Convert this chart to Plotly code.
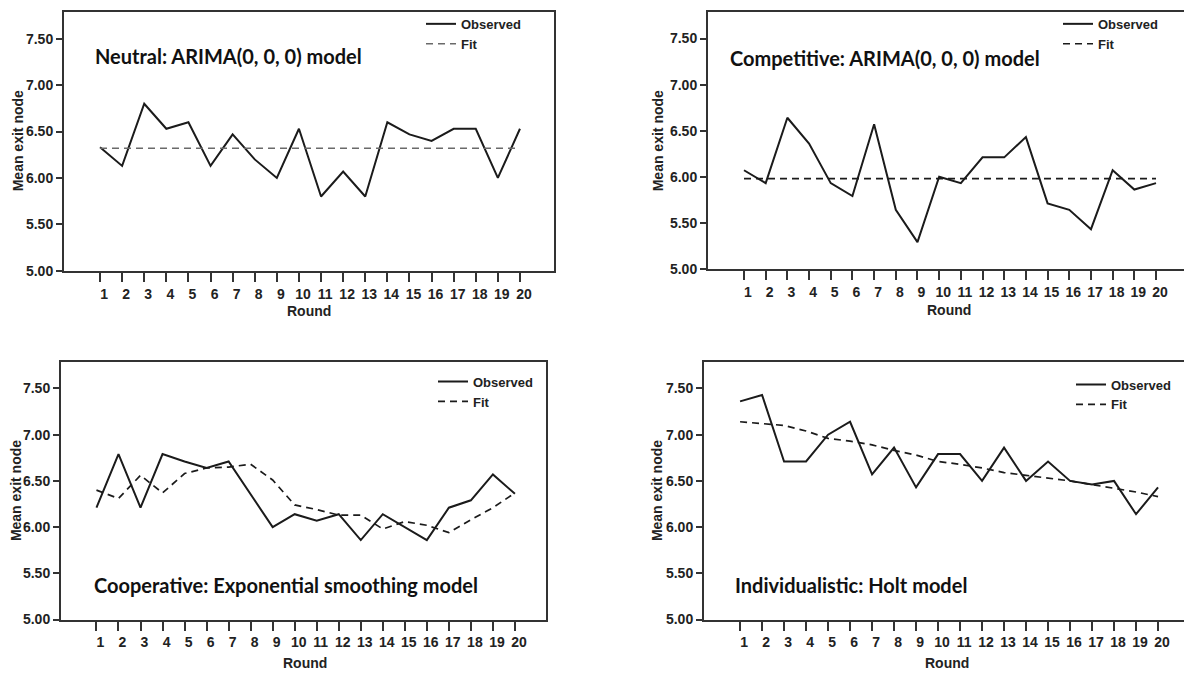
import plotly.graph_objects as go

# Rounds of the experiment (x axis)
rounds = list(range(1, 21))
round_labels = [str(r) for r in rounds]

# Mean exit node per round, observed series and model fit, per condition
neutral_observed = [6.33, 6.13, 6.80, 6.53, 6.60, 6.13, 6.47, 6.20, 6.00, 6.53,
                    5.80, 6.07, 5.80, 6.60, 6.47, 6.40, 6.53, 6.53, 6.00, 6.53]
neutral_fit = [6.32, 6.32, 6.32, 6.32, 6.32, 6.32, 6.32, 6.32, 6.32, 6.32,
               6.32, 6.32, 6.32, 6.32, 6.32, 6.32, 6.32, 6.32, 6.32, 6.32]

competitive_observed = [6.07, 5.93, 6.64, 6.36, 5.93, 5.79, 6.57, 5.64, 5.29, 6.00,
                        5.93, 6.21, 6.21, 6.43, 5.71, 5.64, 5.43, 6.07, 5.86, 5.93]
competitive_fit = [5.98, 5.98, 5.98, 5.98, 5.98, 5.98, 5.98, 5.98, 5.98, 5.98,
                   5.98, 5.98, 5.98, 5.98, 5.98, 5.98, 5.98, 5.98, 5.98, 5.98]

cooperative_observed = [6.21, 6.79, 6.21, 6.79, 6.71, 6.64, 6.71, 6.36, 6.00, 6.14,
                        6.07, 6.14, 5.86, 6.14, 6.00, 5.86, 6.21, 6.29, 6.57, 6.36]
cooperative_fit = [6.40, 6.31, 6.56, 6.37, 6.58, 6.64, 6.65, 6.68, 6.51, 6.24,
                   6.19, 6.13, 6.13, 5.98, 6.06, 6.02, 5.94, 6.08, 6.21, 6.37]

individualistic_observed = [7.36, 7.43, 6.71, 6.71, 7.00, 7.14, 6.57, 6.86, 6.43, 6.79,
                            6.79, 6.50, 6.86, 6.50, 6.71, 6.50, 6.46, 6.50, 6.14, 6.43]
individualistic_fit = [7.14, 7.12, 7.10, 7.04, 6.96, 6.93, 6.89, 6.83, 6.78, 6.71,
                       6.68, 6.64, 6.59, 6.56, 6.53, 6.50, 6.46, 6.42, 6.38, 6.33]

panel_titles = [
    "Neutral: ARIMA(0, 0, 0) model",
    "Competitive: ARIMA(0, 0, 0) model",
    "Cooperative: Exponential smoothing model",
    "Individualistic: Holt model",
]
y_ticks = [5.0, 5.5, 6.0, 6.5, 7.0, 7.5]
y_label = "Mean exit node"
x_label = "Round"

W, H = 1184, 675


def px(x):
    return x / W


def py(y):
    return 1 - y / H


INK = "#1b1b1b"
FRAME = "#333333"
TICK_FONT = dict(family="Liberation Sans, Arial, sans-serif", size=14, color="#222222", weight="bold")
LEGEND_FONT = dict(family="Liberation Sans, Arial, sans-serif", size=13, color="#222222", weight="bold")
TITLE_FONT = dict(family="Lato, Calibri, sans-serif", size=20, color="#111111", weight="bold")

# Layout of each panel in pixels: frame box, x range, legend and label anchors
panels = [
    dict(obs=neutral_observed, fit=neutral_fit, fit_color="#6a6a6a",
         box=(64, 12, 554, 274), xr=(-0.63, 21.54), closed=True,
         legend=(421, 9), title=(93, 57), ylab=(18, 143), xlab=(309, 315)),
    dict(obs=competitive_observed, fit=competitive_fit, fit_color=INK,
         box=(708, 12, 1184, 272), xr=(-0.66, 21.29), closed=False,
         legend=(1058, 9), title=(728, 59), ylab=(658, 143), xlab=(949, 314)),
    dict(obs=cooperative_observed, fit=cooperative_fit, fit_color=INK,
         box=(61, 366, 546, 627), xr=(-0.61, 21.41), closed=True,
         legend=(433, 371), title=(92, 592), ylab=(16, 497), xlab=(305, 671)),
    dict(obs=individualistic_observed, fit=individualistic_fit, fit_color=INK,
         box=(704, 366, 1184, 627), xr=(-0.64, 21.18), closed=False,
         legend=(1071, 374), title=(733, 592), ylab=(657, 497), xlab=(947, 671)),
]

fig = go.Figure()
annotations = []
layout = dict(
    width=W, height=H,
    margin=dict(l=0, r=0, t=0, b=0),
    paper_bgcolor="white", plot_bgcolor="white",
    showlegend=True,
)

for i, p in enumerate(panels, start=1):
    sfx = "" if i == 1 else str(i)
    leg = "legend" if i == 1 else f"legend{i}"
    x0, y0, x1, y1 = p["box"]

    fig.add_trace(go.Scatter(
        x=rounds, y=p["obs"], mode="lines", name="Observed",
        line=dict(color=INK, width=2),
        xaxis="x" + sfx, yaxis="y" + sfx, legend=leg,
    ))
    fig.add_trace(go.Scatter(
        x=rounds, y=p["fit"], mode="lines", name="Fit",
        line=dict(color=p["fit_color"], width=1.7, dash="7px,5px"),
        xaxis="x" + sfx, yaxis="y" + sfx, legend=leg,
    ))

    layout["xaxis" + sfx] = dict(
        domain=[px(x0), px(x1)], range=list(p["xr"]), anchor="y" + sfx,
        tickmode="array", tickvals=rounds, ticktext=round_labels,
        ticks="outside", ticklen=9, tickwidth=1.5, tickcolor=FRAME,
        ticklabelshift=4, tickfont=TICK_FONT,
        showline=True, linecolor=FRAME, linewidth=2, mirror=True,
        showgrid=False, zeroline=False, fixedrange=True,
    )
    layout["yaxis" + sfx] = dict(
        domain=[py(y1), py(y0)], range=[5.0, 7.79], anchor="x" + sfx,
        tickmode="array", tickvals=y_ticks, tickformat=".2f",
        ticks="outside", ticklen=6, tickwidth=1.5, tickcolor=FRAME,
        tickfont=TICK_FONT,
        showline=True, linecolor=FRAME, linewidth=2, mirror=p["closed"],
        showgrid=False, zeroline=False, fixedrange=True,
    )
    layout[leg] = dict(
        x=px(p["legend"][0]), y=py(p["legend"][1]), xanchor="left", yanchor="top",
        bgcolor="rgba(0,0,0,0)", borderwidth=0,
        font=LEGEND_FONT, tracegroupgap=0, itemwidth=30,
    )

    annotations.append(dict(
        text=panel_titles[i - 1], xref="paper", yref="paper",
        x=px(p["title"][0]), y=py(p["title"][1]), xanchor="left", yanchor="middle",
        showarrow=False, font=TITLE_FONT,
    ))
    annotations.append(dict(
        text=y_label, xref="paper", yref="paper", textangle=-90,
        x=px(p["ylab"][0]), y=py(p["ylab"][1]), xanchor="center", yanchor="middle",
        showarrow=False, font=TICK_FONT,
    ))
    annotations.append(dict(
        text=x_label, xref="paper", yref="paper",
        x=px(p["xlab"][0]), y=py(p["xlab"][1]), xanchor="center", yanchor="middle",
        showarrow=False, font=TICK_FONT,
    ))

layout["annotations"] = annotations
fig.update_layout(**layout)

fig.write_html("out.html")
